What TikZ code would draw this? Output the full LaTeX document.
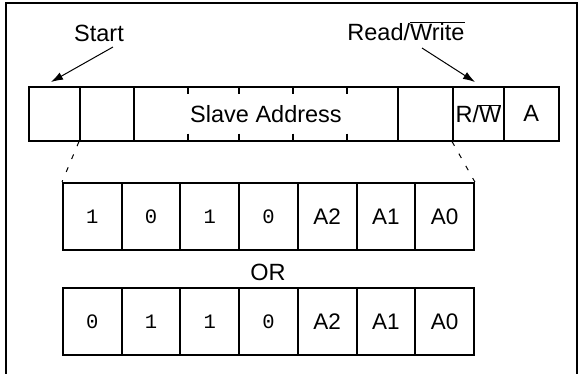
\documentclass[tikz,border=0pt]{standalone}
\usepackage{fontspec}
\setmainfont{Liberation Sans}
\setmonofont{Liberation Mono}
\usetikzlibrary{arrows.meta}
\begin{document}
\begin{tikzpicture}[x=1pt,y=-1pt,
  cell/.style={draw,line width=2pt,inner sep=0pt,minimum height=53.5pt,font=\fontsize{23.5}{27}\selectfont},
  bitbox/.style={draw,line width=2pt,inner sep=0pt,minimum width=58.7pt,minimum height=67pt,font=\fontsize{22.5}{26}\selectfont},
  digit/.style={bitbox,font=\fontsize{20.5}{24}\selectfont\ttfamily},
  lbl/.style={font=\fontsize{23.5}{27}\selectfont,inner sep=0pt},
  pointer/.style={-{Latex[length=12pt,width=8pt]},line width=1pt},
  guide/.style={line width=1pt,dash pattern=on 5pt off 9pt},
  tickmark/.style={line width=1.5pt}]
\useasboundingbox (0,0) rectangle (581,373);
% frame
\draw[line width=2pt] (6,3) rectangle (577,390);
% top bar
\node[cell,minimum width=51pt] (s0) at (54.5,113.75) {};
\node[cell,minimum width=54pt] (s1) at (107,113.75) {};
\node[cell,minimum width=264pt] (sa) at (266,113.75) {Slave Address};
\node[cell,minimum width=55pt] (s8) at (425.5,113.75) {};
\node[cell,minimum width=51pt] (rw) at (478.5,113.75) {R/$\overline{\mbox{W}}$};
\node[cell,minimum width=54.5pt] (ack) at (531.25,113.75) {A};
\foreach \x in {188,239,293,347} {
  \draw[tickmark] (\x,87) -- (\x,94);
  \draw[tickmark] (\x,133.5) -- (\x,140.5);
}
% labels and pointers
\node[lbl] (start) at (99,33) {Start};
\node[lbl] (rwl) at (406,31) {Read/$\overline{\mbox{Write}}$};
\coordinate (startTail) at (113,47);
\coordinate (startTip) at (51,82);
\coordinate (rwTail) at (422,48);
\coordinate (rwTip) at (475,82);
\draw[pointer] (startTail) -- (startTip);
\draw[pointer] (rwTail) -- (rwTip);
% lower rows
\foreach \i/\t in {1/1,2/0,3/1,4/0} {
  \node[digit] (a\i) at ({63+58.7*(\i-0.5)},216.5) {\t};
}
\foreach \i/\t in {5/A2,6/A1,7/A0} {
  \node[bitbox] (a\i) at ({63+58.7*(\i-0.5)},216.5) {\t};
}
\foreach \i/\t in {1/0,2/1,3/1,4/0} {
  \node[digit] (b\i) at ({63+58.7*(\i-0.5)},321.5) {\t};
}
\foreach \i/\t in {5/A2,6/A1,7/A0} {
  \node[bitbox] (b\i) at ({63+58.7*(\i-0.5)},321.5) {\t};
}
\node[lbl] (or) at (268,272) {OR};
% guides
\draw[guide] (s1.south west) -- (a1.north west);
\draw[guide] (rw.south west) -- (a7.north east);
\end{tikzpicture}
\end{document}
